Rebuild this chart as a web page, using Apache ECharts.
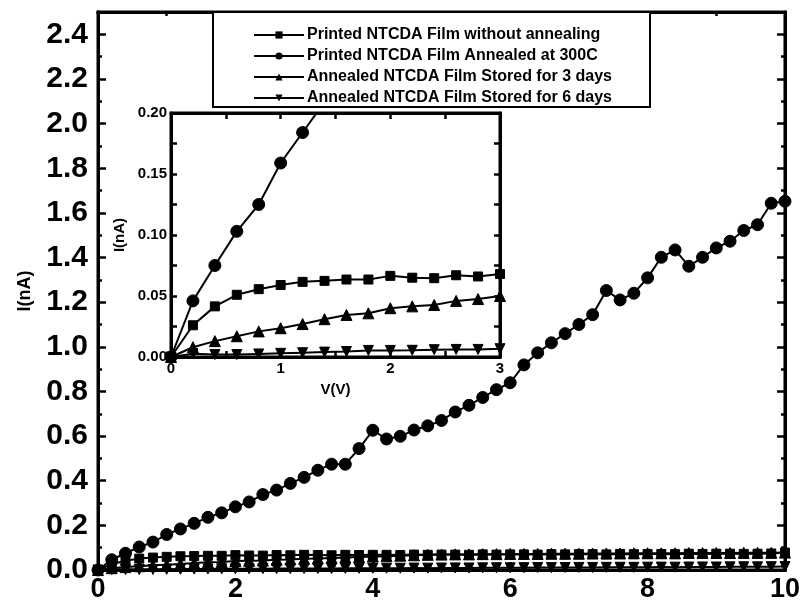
<!DOCTYPE html>
<html>
<head>
<meta charset="utf-8">
<script src="https://cdn.jsdelivr.net/npm/echarts@6/dist/echarts.min.js"></script>
<style>
html,body{margin:0;padding:0;background:#fff;}
#chart{width:803px;height:603px;}
</style>
</head>
<body>
<div id="chart"></div>
<script>
// Voltage V (V)
const voltage = [0,0.2,0.4,0.6,0.8,1.0,1.2,1.4,1.6,1.8,2.0,2.2,2.4,2.6,2.8,3.0,3.2,3.4,3.6,3.8,4.0,4.2,4.4,4.6,4.8,5.0,5.2,5.4,5.6,5.8,6.0,6.2,6.4,6.6,6.8,7.0,7.2,7.4,7.6,7.8,8.0,8.2,8.4,8.6,8.8,9.0,9.2,9.4,9.6,9.8,10.0];
// Current I (nA)
const iUnannealed = [0,0.026,0.0415,0.051,0.0556,0.059,0.0616,0.0624,0.0635,0.0635,0.0665,0.065,0.0646,0.067,0.066,0.068,
  0.067,0.066,0.068,0.067,0.068,0.068,0.067,0.069,0.068,0.069,0.069,0.068,0.070,0.069,0.070,0.070,0.069,0.071,0.070,0.071,
  0.071,0.070,0.072,0.071,0.072,0.072,0.071,0.073,0.072,0.073,0.073,0.072,0.073,0.074,0.078];
const iAnnealed = [0,0.046,0.075,0.103,0.125,0.159,0.184,0.209,0.236,0.256,0.283,0.305,0.338,0.358,0.388,0.415,
  0.447,0.474,0.474,0.544,0.626,0.587,0.599,0.627,0.646,0.670,0.708,0.738,0.773,0.808,0.839,0.919,0.973,1.018,1.059,1.100,
  1.144,1.252,1.210,1.240,1.309,1.401,1.434,1.361,1.401,1.443,1.473,1.521,1.547,1.643,1.652];
const iStored3 = [0,0.008,0.013,0.017,0.021,0.0236,0.027,0.031,0.0345,0.0358,0.040,0.0415,0.0426,0.046,0.0475,0.050,
  0.052,0.054,0.056,0.058,0.060,0.062,0.064,0.066,0.068,0.069,0.070,0.070,0.071,0.071,0.072,0.072,0.072,0.073,0.073,0.073,
  0.074,0.074,0.074,0.075,0.075,0.075,0.075,0.076,0.076,0.076,0.076,0.077,0.077,0.077,0.078];
const iStored6 = [0,0.0027,0.002,0.002,0.0025,0.003,0.0035,0.004,0.0045,0.0054,0.0054,0.0055,0.006,0.0062,0.0062,0.0068,
  0.007,0.0068,0.0074,0.0076,0.0075,0.0081,0.0079,0.0086,0.0084,0.009,0.0093,0.0091,0.0097,0.0101,0.0099,0.0104,0.011,0.0107,0.0113,0.0116,
  0.0114,0.012,0.0123,0.0121,0.0127,0.013,0.0128,0.0134,0.0137,0.0135,0.0141,0.0144,0.0142,0.0148,0.0152];

const seriesNames = ['Printed NTCDA Film without annealing','Printed NTCDA Film Annealed at 300C','Annealed NTCDA Film Stored for 3 days','Annealed NTCDA Film Stored for 6 days'];
const mainXMajorTicks = [0,2,4,6,8,10];
const mainXMinorTicks = [1,3,5,7,9];
const mainYMajorTicks = [0,0.2,0.4,0.6,0.8,1.0,1.2,1.4,1.6,1.8,2.0,2.2,2.4];
const mainYMinorTicks = [0.1,0.3,0.5,0.7,0.9,1.1,1.3,1.5,1.7,1.9,2.1,2.3];
const insetXLabels = ['0','1','2','3'];
const insetYLabels = ['0.00','0.05','0.10','0.15','0.20'];
const insetVmax = 3;
const insetPoints = voltage.filter(v => v <= insetVmax).length;

const FONT = 'Arial, "Liberation Sans", sans-serif';
const BLACK = '#000';

function pairs(ys, n) {
  const out = [];
  const len = n == null ? voltage.length : n;
  for (let i = 0; i < len; i++) out.push([voltage[i], ys[i]]);
  return out;
}

const styles = [
  {data: iUnannealed, symbol: 'rect', size: 9, rotate: 0},
  {data: iAnnealed, symbol: 'circle', size: 12, rotate: 0},
  {data: iStored3, symbol: 'triangle', size: 11, rotate: 0},
  {data: iStored6, symbol: 'triangle', size: 10, rotate: 180}
];

const series = [];
styles.forEach((s, k) => {
  series.push({
    name: seriesNames[k], type: 'line', xAxisIndex: 0, yAxisIndex: 0,
    data: pairs(s.data), symbol: s.symbol, symbolSize: s.size, symbolRotate: s.rotate,
    showAllSymbol: true, animation: false,
    lineStyle: {color: BLACK, width: 2}, itemStyle: {color: BLACK, borderColor: BLACK}
  });
});
styles.forEach((s, k) => {
  series.push({
    name: seriesNames[k], type: 'line', xAxisIndex: 4, yAxisIndex: 4,
    data: pairs(s.data, insetPoints), symbol: s.symbol, symbolSize: s.size, symbolRotate: s.rotate,
    showAllSymbol: true, animation: false, clip: true,
    lineStyle: {color: BLACK, width: 2}, itemStyle: {color: BLACK, borderColor: BLACK}
  });
});

const labelBase = {color: BLACK, fontFamily: FONT, fontWeight: 'bold'};

// main-chart tick axis builder (labels/name added through extra)
function tickAxis(grid, pos, min, max, values, len, extra) {
  const a = {
    gridIndex: grid, type: 'value', position: pos, min: min, max: max,
    axisLine: {show: true, onZero: false, lineStyle: {color: BLACK, width: 3}},
    splitLine: {show: false},
    axisTick: {show: true, inside: true, length: len, lineStyle: {color: BLACK, width: 2.5}, customValues: values},
    axisLabel: {show: false}
  };
  return Object.assign(a, extra || {});
}

// inset axis builder: plain interval ticks, labels only at listed values
function insetAxis(pos, min, max, step, labels, extra) {
  const a = {
    gridIndex: 1, type: 'value', position: pos, min: min, max: max, interval: step,
    axisLine: {onZero: false, lineStyle: {color: BLACK, width: 3}},
    splitLine: {show: false},
    axisTick: {inside: true, length: 6, lineStyle: {color: BLACK, width: 2.5}},
    axisLabel: {show: false}
  };
  if (labels) {
    a.axisLabel = Object.assign({show: true, fontSize: 15, margin: 4, showMinLabel: true, showMaxLabel: true,
      formatter: v => {
        const s = labels.find(l => Math.abs(parseFloat(l) - v) < 1e-6);
        return s == null ? '' : s;
      }}, labelBase);
  }
  return Object.assign(a, extra || {});
}

const xAxes = [
  tickAxis(0, 'bottom', 0, 10, mainXMajorTicks, 8, {
    axisLabel: Object.assign({show: true, fontSize: 27, margin: 6, customValues: mainXMajorTicks}, labelBase)}),
  tickAxis(0, 'bottom', 0, 10, mainXMinorTicks, 4),
  tickAxis(0, 'top', 0, 10, mainXMajorTicks, 8),
  tickAxis(0, 'top', 0, 10, mainXMinorTicks, 4),
  insetAxis('bottom', 0, 3, 0.5, insetXLabels, {
    name: 'V(V)', nameLocation: 'middle', nameGap: 25,
    nameTextStyle: Object.assign({fontSize: 15}, labelBase)}),
  insetAxis('top', 0, 3, 0.5, null)
];

const yAxes = [
  tickAxis(0, 'left', 0, 2.5, mainYMajorTicks, 8, {
    axisLabel: Object.assign({show: true, fontSize: 30, margin: 10, customValues: mainYMajorTicks, formatter: v => v.toFixed(1)}, labelBase),
    name: 'I(nA)', nameLocation: 'middle', nameGap: 64,
    nameTextStyle: Object.assign({fontSize: 18}, labelBase)}),
  tickAxis(0, 'left', 0, 2.5, mainYMinorTicks, 4),
  tickAxis(0, 'right', 0, 2.5, mainYMajorTicks, 8),
  tickAxis(0, 'right', 0, 2.5, mainYMinorTicks, 4),
  insetAxis('left', 0, 0.2, 0.025, insetYLabels, {
    name: 'I(nA)', nameLocation: 'middle', nameGap: 44,
    nameTextStyle: Object.assign({fontSize: 15}, labelBase)}),
  insetAxis('right', 0, 0.2, 0.025, null)
];

const option = {
  animation: false,
  backgroundColor: '#fff',
  grid: [
    {left: 98, right: 14, top: 12, bottom: 32, show: true, borderColor: BLACK, borderWidth: 3},
    {left: 171, right: 303, top: 113, bottom: 246, show: true, borderColor: BLACK, borderWidth: 3}
  ],
  graphic: [{
    type: 'rect', z: 3, shape: {x: 213, y: 12, width: 437, height: 95},
    style: {fill: '#fff', stroke: BLACK, lineWidth: 2}
  }],
  legend: {
    data: seriesNames, orient: 'vertical', left: 253, top: 27, itemGap: 5,
    itemWidth: 50, itemHeight: 9, z: 5, padding: 0,
    textStyle: {color: BLACK, fontFamily: FONT, fontWeight: 'bold', fontSize: 16, padding: [0, 0, 0, -2]}
  },
  xAxis: xAxes,
  yAxis: yAxes,
  series: series
};

const chart = echarts.init(document.getElementById('chart'), null, {renderer: 'canvas'});
chart.setOption(option);
</script>
</body>
</html>
